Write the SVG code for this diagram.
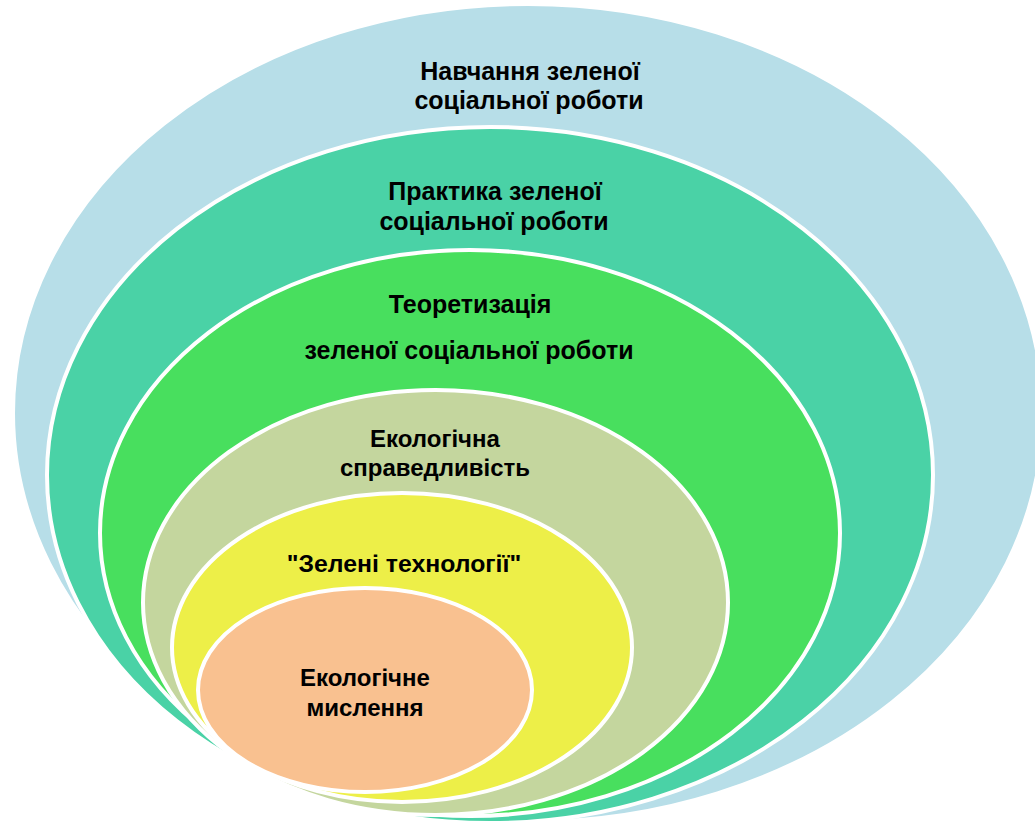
<svg xmlns="http://www.w3.org/2000/svg" width="1035" height="822" viewBox="0 0 1035 822">
  <style>
    .ring { stroke: #ffffff; stroke-width: 4; }
    .lbl { font-family: "Liberation Sans", Arial, sans-serif; font-weight: bold; font-size: 24px; fill: #000000; text-anchor: middle; }
    .big { font-size: 25px; }
  </style>
  <rect width="1035" height="822" fill="#ffffff"/>
  <g id="node-navchannya">
    <ellipse class="ring" cx="528" cy="413" rx="515" ry="409" fill="#B7DEE8"/>
    <text class="lbl big" x="530" y="80">Навчання зеленої</text>
    <text class="lbl big" x="529" y="109">соціальної роботи</text>
  </g>
  <g id="node-praktyka">
    <ellipse class="ring" cx="490" cy="475" rx="443" ry="348" fill="#4AD2A6"/>
    <text class="lbl big" x="495" y="200">Практика зеленої</text>
    <text class="lbl big" x="494" y="230">соціальної роботи</text>
  </g>
  <g id="node-teoretyzatsiya">
    <ellipse class="ring" cx="470" cy="533" rx="370" ry="283" fill="#48DF5E"/>
    <text class="lbl big" x="470" y="313">Теоретизація</text>
    <text class="lbl big" x="469" y="359">зеленої соціальної роботи</text>
  </g>
  <g id="node-spravedlyvist">
    <ellipse class="ring" cx="435.5" cy="602.5" rx="292.5" ry="212.5" fill="#C4D69E"/>
    <text class="lbl" x="435" y="447">Екологічна</text>
    <text class="lbl" x="435" y="476">справедливість</text>
  </g>
  <g id="node-tekhnolohii">
    <ellipse class="ring" cx="402" cy="647.5" rx="230" ry="154.5" fill="#EDEF48"/>
    <text class="lbl" x="404" y="572" style="font-size:24.8px">"Зелені технології"</text>
  </g>
  <g id="node-myslennya">
    <ellipse class="ring" cx="365" cy="690" rx="167" ry="102" fill="#F9C190"/>
    <text class="lbl" x="365" y="686">Екологічне</text>
    <text class="lbl" x="365" y="716">мислення</text>
  </g>
  <g id="connectors"/>
</svg>
